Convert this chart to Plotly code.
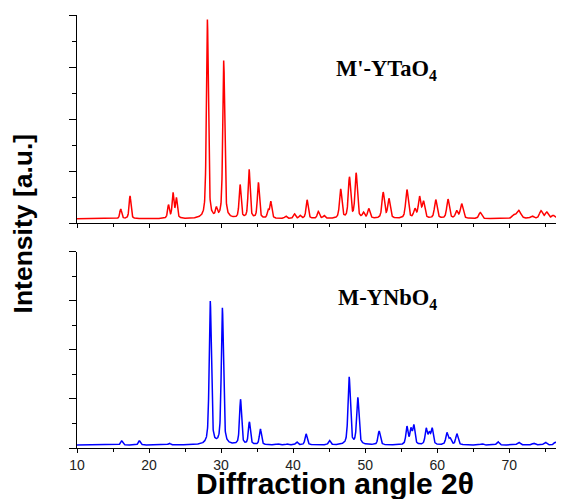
import numpy as np
import plotly.graph_objects as go

# ---- data (peak list: 2theta position, height, FWHM) ----
ta_pos = [16.07, 17.36, 22.7, 23.33, 23.8, 28.1, 29.35, 30.37, 32.64, 33.89, 35.18, 36.53, 36.9,
          38.98, 40.18, 40.97, 41.94, 43.5, 44.3, 46.6, 47.82, 48.75, 49.77, 50.5, 52.5, 53.3,
          55.8, 56.9, 57.55, 58.1, 59.8, 61.5, 62.7, 63.4, 65.97, 70.6, 71.3, 73.15, 74.4, 75.2,
          76.1, 77.5]
ta_hgt = [4.7, 11.0, 6.3, 12.0, 9.5, 95.5, 4.0, 76.0, 16.0, 23.5, 17.2, 3.5, 8.0,
          1.2, 2.2, 1.4, 9.0, 3.4, 1.4, 14.0, 19.5, 21.6, 2.5, 4.6, 12.4, 9.3,
          13.8, 4.2, 10.0, 7.8, 9.0, 9.2, 3.5, 7.0, 3.0, 1.5, 4.0, 1.2, 3.7, 3.0,
          1.5, 3.0]
ta_fwhm = [0.3, 0.3, 0.3, 0.3, 0.3, 0.32, 0.3, 0.32, 0.32, 0.32, 0.32, 0.3, 0.32,
           0.35, 0.35, 0.35, 0.35, 0.35, 0.35, 0.38, 0.38, 0.38, 0.35, 0.38, 0.4, 0.4,
           0.42, 0.4, 0.4, 0.4, 0.42, 0.42, 0.4, 0.45, 0.45, 0.5, 0.7, 0.5, 0.5, 0.5,
           0.5, 0.5]
ta_base = 2.0

nb_pos = [16.2, 18.66, 22.8, 28.5, 30.18, 32.7, 33.93, 35.46, 37.96, 39.2, 40.5, 41.8, 45.05,
          47.78, 48.98, 51.94, 55.8, 56.35, 56.76, 58.47, 58.9, 59.3, 61.35, 61.8, 62.73,
          66.2, 68.43, 71.3, 73.4, 75.0, 76.4, 77.1]
nb_hgt = [2.1, 2.1, 0.9, 73.0, 69.5, 23.0, 11.5, 8.0, 0.5, 0.5, 1.5, 5.6, 2.2,
          34.5, 23.8, 7.0, 9.0, 7.5, 9.5, 8.0, 5.5, 8.0, 6.0, 3.0, 5.6,
          0.6, 1.7, 1.4, 0.9, 1.4, 1.4, 1.0]
nb_fwhm = [0.35, 0.35, 0.35, 0.35, 0.35, 0.33, 0.33, 0.33, 0.35, 0.35, 0.35, 0.35, 0.35,
           0.38, 0.38, 0.38, 0.35, 0.35, 0.35, 0.35, 0.35, 0.35, 0.38, 0.38, 0.38,
           0.4, 0.4, 0.45, 0.45, 0.45, 0.45, 0.45]
nb_base = 1.5

x_ticks = [10, 20, 30, 40, 50, 60, 70]
label_ta = "M'-YTaO<sub>4</sub>"
label_nb = "M-YNbO<sub>4</sub>"


def profile(x, pos, hgt, fwhm, base, eta=0.55):
    y = np.full_like(x, base)
    for p, h, w in zip(pos, hgt, fwhm):
        g = np.exp(-4 * np.log(2) * ((x - p) / w) ** 2)
        l = 1.0 / (1.0 + 4 * ((x - p) / w) ** 2)
        y += h * (eta * l + (1 - eta) * g)
    return y


x = np.arange(10.0, 78.0, 0.02)
y_ta = profile(x, ta_pos, ta_hgt, ta_fwhm, ta_base)
y_nb = profile(x, nb_pos, nb_hgt, nb_fwhm, nb_base)

fig = go.Figure()
fig.add_trace(go.Scatter(x=x, y=y_ta, mode="lines", line=dict(color="#ff0000", width=1.5),
                         xaxis="x2", yaxis="y2", showlegend=False))
fig.add_trace(go.Scatter(x=x, y=y_nb, mode="lines", line=dict(color="#0000ff", width=1.5),
                         xaxis="x", yaxis="y", showlegend=False))

xrange = [10, 77.6]
common_x = dict(range=xrange, showgrid=False, zeroline=False, showline=True, linecolor="black",
                linewidth=1, ticks="outside", tickcolor="black", ticklen=4, tickwidth=1,
                tickvals=x_ticks,
                minor=dict(dtick=5, tick0=10, ticks="outside", ticklen=3, tickcolor="black"))
common_y = dict(range=[0, 100], showgrid=False, zeroline=False, showline=True, linecolor="black",
                linewidth=1, ticks="outside", tickcolor="black", ticklen=7, tickwidth=1,
                tick0=0, dtick=25, showticklabels=False,
                minor=dict(dtick=12.5, tick0=0, ticks="outside", ticklen=4, tickcolor="black"))

fig.update_layout(
    width=556, height=491,
    margin=dict(l=69, r=0, t=7, b=51),
    paper_bgcolor="white", plot_bgcolor="white",
    font=dict(family="Liberation Sans, Arial, sans-serif", color="black"),
    xaxis=dict(common_x, anchor="y", tickfont=dict(size=14, color="#222")),
    yaxis=dict(common_y, domain=[0, 0.4527], anchor="x"),
    xaxis2=dict(common_x, anchor="y2", showticklabels=False, matches="x"),
    yaxis2=dict(common_y, domain=[0.5196, 1.0], anchor="x2"),
    annotations=[
        dict(text="<b>Diffraction angle 2θ</b>", xref="paper", yref="paper", x=0.53, y=-0.081,
             xanchor="center", yanchor="middle", showarrow=False,
             font=dict(size=30, family="Liberation Sans, Arial, sans-serif", color="black")),
        dict(text="<b>Intensity [a.u.]</b>", xref="paper", yref="paper", x=-0.11, y=0.5196,
             xanchor="center", yanchor="middle", showarrow=False, textangle=-90,
             font=dict(size=26.5, family="Liberation Sans, Arial, sans-serif", color="black")),
        dict(text="<b>" + label_ta + "</b>", xref="x2", yref="y2", x=45.7, y=73.5,
             xanchor="left", yanchor="middle", showarrow=False,
             font=dict(size=22.5, family="Liberation Serif, Times New Roman, serif", color="black")),
        dict(text="<b>" + label_nb + "</b>", xref="x", yref="y", x=45.9, y=76.0,
             xanchor="left", yanchor="middle", showarrow=False,
             font=dict(size=22.5, family="Liberation Serif, Times New Roman, serif", color="black")),
    ],
)

fig.write_html("out.html")
